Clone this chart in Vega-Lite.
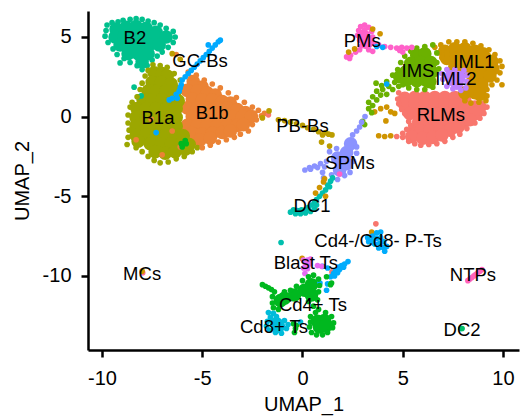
{"$schema":"https://vega.github.io/schema/vega-lite/v6.json","width":431,"height":339,"autosize":"none","padding":{"left":88,"top":11,"right":2,"bottom":66},"background":"white","config":{"view":{"stroke":null},"font":"Liberation Sans"},
"datasets":{
"core":[
{"x":-9.3,"y":5.5,"c":"B2"},{"x":-8.8,"y":5.6,"c":"B2"},{"x":-8.3,"y":5.65,"c":"B2"},{"x":-7.8,"y":5.55,"c":"B2"},{"x":-7.3,"y":5.3,"c":"B2"},
{"x":-9.35,"y":5.0,"c":"B2"},{"x":-8.9,"y":5.05,"c":"B2"},{"x":-8.4,"y":5.05,"c":"B2"},{"x":-7.9,"y":5.05,"c":"B2"},{"x":-7.4,"y":5.05,"c":"B2"},{"x":-6.8,"y":5.0,"c":"B2"},
{"x":-9.1,"y":4.5,"c":"B2"},{"x":-8.65,"y":4.5,"c":"B2"},{"x":-8.15,"y":4.5,"c":"B2"},{"x":-7.65,"y":4.5,"c":"B2"},{"x":-7.15,"y":4.5,"c":"B2"},
{"x":-8.7,"y":3.95,"c":"B2"},{"x":-8.2,"y":3.95,"c":"B2"},{"x":-7.7,"y":3.95,"c":"B2"},{"x":-8.0,"y":3.45,"c":"B2"},
{"x":-5.45,"y":2.2,"c":"B1b"},{"x":-5.0,"y":1.85,"c":"B1b"},{"x":-5.75,"y":1.65,"c":"B1b"},{"x":-5.25,"y":1.6,"c":"B1b"},{"x":-4.75,"y":1.5,"c":"B1b"},{"x":-4.35,"y":1.35,"c":"B1b"},
{"x":-5.5,"y":1.1,"c":"B1b"},{"x":-5.0,"y":1.05,"c":"B1b"},{"x":-4.5,"y":1.05,"c":"B1b"},{"x":-4.0,"y":0.95,"c":"B1b"},{"x":-3.6,"y":0.85,"c":"B1b"},
{"x":-5.75,"y":0.55,"c":"B1b"},{"x":-5.25,"y":0.55,"c":"B1b"},{"x":-4.75,"y":0.55,"c":"B1b"},{"x":-4.25,"y":0.55,"c":"B1b"},{"x":-3.75,"y":0.55,"c":"B1b"},{"x":-3.25,"y":0.45,"c":"B1b"},{"x":-2.85,"y":0.25,"c":"B1b"},
{"x":-5.5,"y":0.0,"c":"B1b"},{"x":-5.0,"y":0.0,"c":"B1b"},{"x":-4.5,"y":0.0,"c":"B1b"},{"x":-4.0,"y":0.0,"c":"B1b"},{"x":-3.5,"y":0.0,"c":"B1b"},{"x":-3.0,"y":0.0,"c":"B1b"},{"x":-2.55,"y":0.0,"c":"B1b"},
{"x":-5.75,"y":-0.55,"c":"B1b"},{"x":-5.25,"y":-0.55,"c":"B1b"},{"x":-4.75,"y":-0.55,"c":"B1b"},{"x":-4.25,"y":-0.55,"c":"B1b"},{"x":-3.75,"y":-0.55,"c":"B1b"},{"x":-3.25,"y":-0.55,"c":"B1b"},{"x":-2.95,"y":-0.5,"c":"B1b"},
{"x":-5.5,"y":-1.05,"c":"B1b"},{"x":-5.0,"y":-1.1,"c":"B1b"},{"x":-4.5,"y":-1.05,"c":"B1b"},{"x":-4.0,"y":-1.0,"c":"B1b"},{"x":-3.6,"y":-0.9,"c":"B1b"},{"x":-5.1,"y":-1.45,"c":"B1b"},{"x":-4.6,"y":-1.35,"c":"B1b"},
{"x":-7.4,"y":2.75,"c":"B1a"},{"x":-7.0,"y":2.7,"c":"B1a"},{"x":-6.75,"y":2.55,"c":"B1a"},
{"x":-7.5,"y":2.15,"c":"B1a"},{"x":-7.05,"y":2.15,"c":"B1a"},{"x":-6.55,"y":2.05,"c":"B1a"},
{"x":-7.7,"y":1.6,"c":"B1a"},{"x":-7.3,"y":1.6,"c":"B1a"},{"x":-6.8,"y":1.6,"c":"B1a"},{"x":-6.35,"y":1.6,"c":"B1a"},
{"x":-7.95,"y":1.05,"c":"B1a"},{"x":-7.5,"y":1.05,"c":"B1a"},{"x":-7.0,"y":1.05,"c":"B1a"},{"x":-6.5,"y":1.05,"c":"B1a"},{"x":-6.2,"y":1.0,"c":"B1a"},
{"x":-8.25,"y":0.5,"c":"B1a"},{"x":-7.8,"y":0.5,"c":"B1a"},{"x":-7.3,"y":0.5,"c":"B1a"},{"x":-6.8,"y":0.5,"c":"B1a"},{"x":-6.3,"y":0.5,"c":"B1a"},
{"x":-8.3,"y":-0.05,"c":"B1a"},{"x":-7.8,"y":-0.05,"c":"B1a"},{"x":-7.3,"y":-0.05,"c":"B1a"},{"x":-6.8,"y":-0.05,"c":"B1a"},{"x":-6.3,"y":-0.05,"c":"B1a"},
{"x":-8.3,"y":-0.6,"c":"B1a"},{"x":-7.8,"y":-0.6,"c":"B1a"},{"x":-7.3,"y":-0.6,"c":"B1a"},{"x":-6.8,"y":-0.6,"c":"B1a"},{"x":-6.3,"y":-0.6,"c":"B1a"},
{"x":-8.3,"y":-1.15,"c":"B1a"},{"x":-7.8,"y":-1.15,"c":"B1a"},{"x":-7.3,"y":-1.15,"c":"B1a"},{"x":-6.8,"y":-1.15,"c":"B1a"},{"x":-6.3,"y":-1.15,"c":"B1a"},{"x":-5.95,"y":-1.2,"c":"B1a"},
{"x":-8.2,"y":-1.55,"c":"B1a"},{"x":-7.6,"y":-1.7,"c":"B1a"},{"x":-7.05,"y":-1.7,"c":"B1a"},{"x":-6.55,"y":-1.7,"c":"B1a"},{"x":-6.05,"y":-1.7,"c":"B1a"},{"x":-5.65,"y":-1.75,"c":"B1a"},
{"x":-7.35,"y":-2.2,"c":"B1a"},{"x":-6.85,"y":-2.3,"c":"B1a"},{"x":-6.35,"y":-2.2,"c":"B1a"},{"x":-5.85,"y":-2.05,"c":"B1a"},
{"x":5.1,"y":1.15,"c":"RLMs"},{"x":5.6,"y":1.2,"c":"RLMs"},{"x":6.1,"y":1.2,"c":"RLMs"},{"x":6.6,"y":1.2,"c":"RLMs"},{"x":7.1,"y":1.2,"c":"RLMs"},{"x":7.6,"y":1.2,"c":"RLMs"},{"x":8.1,"y":1.0,"c":"RLMs"},
{"x":5.1,"y":0.75,"c":"RLMs"},{"x":5.6,"y":0.75,"c":"RLMs"},{"x":6.1,"y":0.75,"c":"RLMs"},{"x":6.6,"y":0.75,"c":"RLMs"},{"x":7.1,"y":0.75,"c":"RLMs"},{"x":7.6,"y":0.75,"c":"RLMs"},{"x":8.1,"y":0.6,"c":"RLMs"},{"x":8.6,"y":0.6,"c":"RLMs"},{"x":8.85,"y":0.6,"c":"RLMs"},
{"x":5.35,"y":0.2,"c":"RLMs"},{"x":5.85,"y":0.2,"c":"RLMs"},{"x":6.35,"y":0.2,"c":"RLMs"},{"x":6.85,"y":0.2,"c":"RLMs"},{"x":7.35,"y":0.2,"c":"RLMs"},{"x":7.85,"y":0.2,"c":"RLMs"},{"x":8.35,"y":0.15,"c":"RLMs"},{"x":8.65,"y":0.2,"c":"RLMs"},
{"x":5.8,"y":-0.35,"c":"RLMs"},{"x":6.1,"y":-0.35,"c":"RLMs"},{"x":6.6,"y":-0.35,"c":"RLMs"},{"x":7.1,"y":-0.35,"c":"RLMs"},{"x":7.6,"y":-0.35,"c":"RLMs"},{"x":8.05,"y":-0.3,"c":"RLMs"},{"x":8.35,"y":-0.2,"c":"RLMs"},
{"x":5.6,"y":-0.9,"c":"RLMs"},{"x":5.9,"y":-0.9,"c":"RLMs"},{"x":6.35,"y":-0.9,"c":"RLMs"},{"x":6.85,"y":-0.9,"c":"RLMs"},{"x":7.35,"y":-0.85,"c":"RLMs"},{"x":7.75,"y":-0.65,"c":"RLMs"},
{"x":5.45,"y":-1.25,"c":"RLMs"},{"x":6.0,"y":-1.35,"c":"RLMs"},{"x":6.5,"y":-1.3,"c":"RLMs"},{"x":6.95,"y":-1.15,"c":"RLMs"},
{"x":7.1,"y":4.1,"c":"IML1"},{"x":7.6,"y":4.25,"c":"IML1"},{"x":8.1,"y":4.25,"c":"IML1"},{"x":8.6,"y":4.1,"c":"IML1"},{"x":9.0,"y":3.95,"c":"IML1"},
{"x":7.2,"y":3.65,"c":"IML1"},{"x":7.65,"y":3.65,"c":"IML1"},{"x":8.15,"y":3.65,"c":"IML1"},{"x":8.65,"y":3.65,"c":"IML1"},{"x":9.15,"y":3.65,"c":"IML1"},{"x":9.45,"y":3.45,"c":"IML1"},
{"x":7.6,"y":3.1,"c":"IML1"},{"x":8.1,"y":3.1,"c":"IML1"},{"x":8.6,"y":3.1,"c":"IML1"},{"x":9.1,"y":3.1,"c":"IML1"},{"x":9.5,"y":3.0,"c":"IML1"},
{"x":8.5,"y":2.55,"c":"IML1"},{"x":9.0,"y":2.55,"c":"IML1"},{"x":9.35,"y":2.55,"c":"IML1"},{"x":8.5,"y":2.0,"c":"IML1"},{"x":8.95,"y":2.0,"c":"IML1"},{"x":8.1,"y":1.5,"c":"IML1"},{"x":8.6,"y":1.5,"c":"IML1"},{"x":8.85,"y":1.4,"c":"IML1"},
{"x":5.7,"y":3.85,"c":"IMS"},{"x":6.1,"y":3.95,"c":"IMS"},{"x":5.4,"y":3.35,"c":"IMS"},{"x":5.9,"y":3.4,"c":"IMS"},{"x":6.4,"y":3.4,"c":"IMS"},{"x":5.15,"y":2.8,"c":"IMS"},{"x":5.65,"y":2.85,"c":"IMS"},{"x":6.15,"y":2.85,"c":"IMS"},{"x":6.45,"y":2.8,"c":"IMS"},{"x":4.85,"y":2.5,"c":"IMS"},{"x":5.2,"y":2.3,"c":"IMS"},{"x":5.7,"y":2.25,"c":"IMS"},{"x":6.2,"y":2.25,"c":"IMS"},{"x":6.35,"y":2.2,"c":"IMS"},
{"x":7.4,"y":2.5,"c":"IML2"},{"x":7.8,"y":2.45,"c":"IML2"},{"x":7.7,"y":2.1,"c":"IML2"},
{"x":2.2,"y":-2.25,"c":"SPMs"},{"x":1.75,"y":-2.6,"c":"SPMs"},{"x":2.2,"y":-2.95,"c":"SPMs"},{"x":1.85,"y":-3.35,"c":"SPMs"},{"x":2.4,"y":-1.7,"c":"SPMs"},
{"x":3.05,"y":5.05,"c":"PMs"},{"x":3.2,"y":4.65,"c":"PMs"},
{"x":0.45,"y":-10.55,"c":"Cd4+ Ts"},{"x":0.1,"y":-10.9,"c":"Cd4+ Ts"},{"x":0.45,"y":-11.2,"c":"Cd4+ Ts"},{"x":-0.9,"y":-11.4,"c":"Cd4+ Ts"},{"x":-0.4,"y":-11.2,"c":"Cd4+ Ts"},{"x":-1.1,"y":-11.55,"c":"Cd4+ Ts"},{"x":0.75,"y":-12.85,"c":"Cd4+ Ts"},{"x":1.1,"y":-12.8,"c":"Cd4+ Ts"},{"x":0.85,"y":-13.2,"c":"Cd4+ Ts"},{"x":1.15,"y":-13.15,"c":"Cd4+ Ts"},
{"x":-1.3,"y":-13.0,"c":"Cd8+ Ts"},{"x":-1.2,"y":-13.15,"c":"Cd8+ Ts"}
],
"fine":[
{"x":-9.75,"y":5.75,"c":"B2"},{"x":-9.5,"y":5.9,"c":"B2"},{"x":-9.2,"y":5.95,"c":"B2"},{"x":-8.95,"y":6.05,"c":"B2"},{"x":-8.6,"y":6.1,"c":"B2"},{"x":-8.3,"y":6.15,"c":"B2"},{"x":-8.0,"y":6.1,"c":"B2"},{"x":-7.7,"y":6.0,"c":"B2"},{"x":-7.4,"y":5.9,"c":"B2"},{"x":-7.1,"y":5.75,"c":"B2"},{"x":-6.8,"y":5.55,"c":"B2"},{"x":-6.45,"y":5.35,"c":"B2"},{"x":-6.35,"y":5.0,"c":"B2"},{"x":-6.45,"y":4.65,"c":"B2"},{"x":-6.7,"y":4.35,"c":"B2"},{"x":-7.0,"y":4.05,"c":"B2"},{"x":-7.25,"y":3.8,"c":"B2"},{"x":-7.5,"y":3.55,"c":"B2"},{"x":-7.75,"y":3.2,"c":"B2"},{"x":-8.0,"y":2.95,"c":"B2"},{"x":-8.25,"y":3.2,"c":"B2"},{"x":-8.6,"y":3.4,"c":"B2"},{"x":-8.9,"y":3.65,"c":"B2"},{"x":-9.25,"y":3.9,"c":"B2"},{"x":-9.45,"y":4.25,"c":"B2"},{"x":-9.7,"y":4.65,"c":"B2"},{"x":-9.85,"y":5.05,"c":"B2"},{"x":-9.8,"y":5.4,"c":"B2"},{"x":-9.1,"y":3.37,"c":"B2"},{"x":-8.4,"y":1.85,"c":"B2"},{"x":-8.05,"y":1.3,"c":"B2"},{"x":-8.2,"y":1.25,"c":"B2"},
{"x":-7.7,"y":2.9,"c":"B1a"},{"x":-7.46,"y":3.25,"c":"B1a"},{"x":-7.1,"y":3.2,"c":"B1a"},{"x":-6.75,"y":3.1,"c":"B1a"},{"x":-6.4,"y":2.7,"c":"B1a"},{"x":-6.1,"y":2.3,"c":"B1a"},{"x":-8.0,"y":2.1,"c":"B1a"},{"x":-7.85,"y":2.55,"c":"B1a"},{"x":-8.1,"y":1.7,"c":"B1a"},{"x":-8.25,"y":1.25,"c":"B1a"},{"x":-8.5,"y":0.9,"c":"B1a"},{"x":-8.6,"y":0.6,"c":"B1a"},{"x":-8.7,"y":0.1,"c":"B1a"},{"x":-8.7,"y":-0.4,"c":"B1a"},{"x":-8.65,"y":-0.85,"c":"B1a"},{"x":-8.7,"y":-1.3,"c":"B1a"},{"x":-8.75,"y":-1.75,"c":"B1a"},{"x":-8.3,"y":-1.95,"c":"B1a"},{"x":-8.0,"y":-2.2,"c":"B1a"},{"x":-7.7,"y":-2.5,"c":"B1a"},{"x":-7.4,"y":-2.75,"c":"B1a"},{"x":-7.1,"y":-2.9,"c":"B1a"},{"x":-6.7,"y":-2.85,"c":"B1a"},{"x":-6.3,"y":-2.65,"c":"B1a"},{"x":-5.9,"y":-2.5,"c":"B1a"},{"x":-5.5,"y":-2.2,"c":"B1a"},{"x":-5.25,"y":-1.95,"c":"B1a"},
{"x":-5.7,"y":2.8,"c":"B1b"},{"x":-5.3,"y":2.6,"c":"B1b"},{"x":-4.9,"y":2.3,"c":"B1b"},{"x":-4.5,"y":2.05,"c":"B1b"},{"x":-4.1,"y":1.8,"c":"B1b"},{"x":-3.7,"y":1.5,"c":"B1b"},{"x":-3.3,"y":1.2,"c":"B1b"},{"x":-2.9,"y":0.9,"c":"B1b"},{"x":-2.5,"y":0.6,"c":"B1b"},{"x":-2.2,"y":0.4,"c":"B1b"},{"x":-1.9,"y":0.2,"c":"B1b"},{"x":-2.05,"y":0.05,"c":"B1b"},{"x":-2.4,"y":0.2,"c":"B1b"},{"x":-2.3,"y":-0.2,"c":"B1b"},{"x":-2.5,"y":-0.5,"c":"B1b"},{"x":-2.7,"y":-0.9,"c":"B1b"},{"x":-3.1,"y":-1.1,"c":"B1b"},{"x":-3.4,"y":-1.3,"c":"B1b"},{"x":-3.8,"y":-1.45,"c":"B1b"},{"x":-4.2,"y":-1.6,"c":"B1b"},{"x":-4.6,"y":-1.8,"c":"B1b"},{"x":-5.0,"y":-1.95,"c":"B1b"},{"x":-5.55,"y":2.45,"c":"B1b"},{"x":-6.3,"y":3.9,"c":"B1b"},{"x":-7.55,"y":-0.15,"c":"B1b"},{"x":-8.3,"y":-1.45,"c":"B1b"},{"x":-7.0,"y":-2.4,"c":"B1b"},{"x":-6.1,"y":-1.9,"c":"B1b"},{"x":-6.5,"y":-0.9,"c":"B1b"},
{"x":-1.7,"y":0.11,"c":"RLMs"},{"x":-1.67,"y":0.36,"c":"PB-Bs"},{"x":-2.0,"y":-0.08,"c":"PB-Bs"},{"x":-6.5,"y":3.95,"c":"PB-Bs"},{"x":-6.1,"y":3.6,"c":"PB-Bs"},
{"x":4.8,"y":1.5,"c":"RLMs"},{"x":4.75,"y":1.1,"c":"RLMs"},{"x":4.8,"y":0.8,"c":"RLMs"},{"x":4.95,"y":0.45,"c":"RLMs"},{"x":5.1,"y":0.2,"c":"RLMs"},{"x":5.3,"y":-0.3,"c":"RLMs"},{"x":5.4,"y":-0.55,"c":"RLMs"},{"x":5.2,"y":-0.8,"c":"RLMs"},{"x":5.0,"y":-1.05,"c":"RLMs"},{"x":5.0,"y":-1.3,"c":"RLMs"},{"x":5.3,"y":-1.55,"c":"RLMs"},{"x":5.6,"y":-1.7,"c":"RLMs"},{"x":5.9,"y":-1.8,"c":"RLMs"},{"x":6.3,"y":-1.75,"c":"RLMs"},{"x":6.7,"y":-1.7,"c":"RLMs"},{"x":7.1,"y":-1.55,"c":"RLMs"},{"x":7.5,"y":-1.3,"c":"RLMs"},{"x":7.85,"y":-1.1,"c":"RLMs"},{"x":8.2,"y":-0.75,"c":"RLMs"},{"x":8.6,"y":-0.4,"c":"RLMs"},{"x":8.85,"y":-0.1,"c":"RLMs"},{"x":9.05,"y":0.2,"c":"RLMs"},{"x":9.2,"y":0.6,"c":"RLMs"},{"x":4.7,"y":-1.25,"c":"RLMs"},
{"x":4.1,"y":-1.25,"c":"IML1"},{"x":3.8,"y":-1.2,"c":"IML1"},{"x":4.4,"y":-1.2,"c":"IML1"},{"x":3.9,"y":0.5,"c":"IML1"},{"x":4.2,"y":0.6,"c":"IML1"},{"x":4.4,"y":0.3,"c":"IML1"},{"x":4.6,"y":0.2,"c":"IML1"},{"x":3.6,"y":0.3,"c":"IML1"},{"x":4.16,"y":-0.27,"c":"IML1"},
{"x":6.6,"y":4.35,"c":"IML1"},{"x":6.9,"y":4.5,"c":"IML1"},{"x":7.3,"y":4.7,"c":"IML1"},{"x":7.7,"y":4.7,"c":"IML1"},{"x":8.1,"y":4.7,"c":"IML1"},{"x":8.5,"y":4.6,"c":"IML1"},{"x":8.9,"y":4.45,"c":"IML1"},{"x":9.3,"y":4.2,"c":"IML1"},{"x":9.6,"y":3.9,"c":"IML1"},{"x":9.85,"y":3.5,"c":"IML1"},{"x":9.95,"y":3.15,"c":"IML1"},{"x":9.85,"y":2.75,"c":"IML1"},{"x":9.7,"y":2.3,"c":"IML1"},{"x":9.45,"y":2.0,"c":"IML1"},{"x":9.2,"y":1.7,"c":"IML1"},{"x":9.2,"y":1.3,"c":"IML1"},{"x":9.15,"y":1.0,"c":"IML1"},{"x":8.8,"y":0.9,"c":"IML1"},{"x":8.4,"y":0.85,"c":"IML1"},{"x":8.1,"y":1.0,"c":"IML1"},{"x":6.8,"y":4.0,"c":"IML1"},{"x":9.95,"y":2.0,"c":"IML1"},{"x":7.2,"y":4.0,"c":"IML1"},{"x":6.95,"y":3.7,"c":"IML1"},
{"x":5.7,"y":4.3,"c":"IMS"},{"x":6.1,"y":4.4,"c":"IMS"},{"x":6.5,"y":4.5,"c":"IMS"},{"x":5.4,"y":4.1,"c":"IMS"},{"x":5.1,"y":3.8,"c":"IMS"},{"x":4.9,"y":3.4,"c":"IMS"},{"x":4.75,"y":2.95,"c":"IMS"},{"x":4.5,"y":2.6,"c":"IMS"},{"x":4.2,"y":2.2,"c":"IMS"},{"x":3.95,"y":1.95,"c":"IMS"},{"x":3.7,"y":1.6,"c":"IMS"},{"x":3.5,"y":1.25,"c":"IMS"},{"x":3.3,"y":0.9,"c":"IMS"},{"x":3.3,"y":0.5,"c":"IMS"},{"x":3.5,"y":0.7,"c":"IMS"},{"x":3.7,"y":1.05,"c":"IMS"},{"x":3.9,"y":1.35,"c":"IMS"},{"x":4.2,"y":1.4,"c":"IMS"},{"x":4.5,"y":1.7,"c":"IMS"},{"x":4.8,"y":1.9,"c":"IMS"},{"x":5.0,"y":2.0,"c":"IMS"},{"x":5.3,"y":1.8,"c":"IMS"},{"x":5.7,"y":1.7,"c":"IMS"},{"x":6.1,"y":1.7,"c":"IMS"},{"x":6.5,"y":1.85,"c":"IMS"},{"x":3.67,"y":2.1,"c":"IMS"},{"x":4.0,"y":1.7,"c":"IMS"},{"x":4.3,"y":1.9,"c":"IMS"},{"x":4.6,"y":2.15,"c":"IMS"},{"x":3.0,"y":-0.3,"c":"IMS"},{"x":3.1,"y":-0.5,"c":"IMS"},{"x":3.45,"y":0.25,"c":"IMS"},{"x":6.7,"y":4.0,"c":"IMS"},{"x":6.7,"y":3.4,"c":"IMS"},{"x":6.8,"y":3.0,"c":"IMS"},
{"x":6.95,"y":2.7,"c":"IML2"},{"x":7.0,"y":2.35,"c":"IML2"},{"x":7.2,"y":2.95,"c":"IML2"},{"x":7.6,"y":2.95,"c":"IML2"},{"x":8.05,"y":2.9,"c":"IML2"},{"x":8.2,"y":2.6,"c":"IML2"},{"x":8.2,"y":2.2,"c":"IML2"},{"x":8.15,"y":1.8,"c":"IML2"},{"x":7.9,"y":1.65,"c":"IML2"},{"x":7.5,"y":1.75,"c":"IML2"},{"x":7.3,"y":2.1,"c":"IML2"},{"x":7.2,"y":1.9,"c":"IML2"},
{"x":-4.1,"y":4.8,"c":"GC-Bs"},{"x":-4.2,"y":4.7,"c":"GC-Bs"},{"x":-4.35,"y":4.5,"c":"GC-Bs"},{"x":-4.5,"y":4.3,"c":"GC-Bs"},{"x":-4.65,"y":4.1,"c":"GC-Bs"},{"x":-4.8,"y":3.9,"c":"GC-Bs"},{"x":-4.95,"y":3.7,"c":"GC-Bs"},{"x":-5.1,"y":3.5,"c":"GC-Bs"},{"x":-5.25,"y":3.3,"c":"GC-Bs"},{"x":-5.4,"y":3.1,"c":"GC-Bs"},{"x":-5.55,"y":2.9,"c":"GC-Bs"},{"x":-5.7,"y":2.7,"c":"GC-Bs"},{"x":-5.85,"y":2.5,"c":"GC-Bs"},{"x":-6.0,"y":2.3,"c":"GC-Bs"},{"x":-6.05,"y":2.0,"c":"GC-Bs"},{"x":-6.1,"y":1.8,"c":"GC-Bs"},{"x":-6.15,"y":1.6,"c":"GC-Bs"},{"x":-6.3,"y":1.4,"c":"GC-Bs"},{"x":-6.5,"y":1.15,"c":"GC-Bs"},{"x":-6.65,"y":1.05,"c":"GC-Bs"},{"x":-6.25,"y":1.15,"c":"GC-Bs"},{"x":-4.7,"y":4.5,"c":"GC-Bs"},{"x":-7.3,"y":-1.0,"c":"GC-Bs"},
{"x":3.1,"y":5.75,"c":"PMs"},{"x":2.9,"y":5.65,"c":"PMs"},{"x":3.3,"y":5.6,"c":"PMs"},{"x":2.8,"y":5.4,"c":"PMs"},{"x":3.1,"y":5.45,"c":"PMs"},{"x":3.45,"y":5.35,"c":"PMs"},{"x":2.75,"y":5.1,"c":"PMs"},{"x":3.5,"y":5.0,"c":"PMs"},{"x":2.85,"y":4.8,"c":"PMs"},{"x":3.55,"y":4.6,"c":"PMs"},{"x":2.95,"y":4.45,"c":"PMs"},{"x":3.3,"y":4.2,"c":"PMs"},{"x":3.5,"y":4.1,"c":"PMs"},{"x":3.8,"y":4.5,"c":"PMs"},{"x":4.1,"y":4.4,"c":"PMs"},{"x":4.4,"y":4.35,"c":"PMs"},{"x":4.7,"y":4.3,"c":"PMs"},{"x":4.95,"y":4.35,"c":"PMs"},{"x":5.2,"y":4.3,"c":"PMs"},{"x":5.45,"y":4.35,"c":"PMs"},{"x":5.0,"y":4.05,"c":"PMs"},{"x":4.85,"y":4.15,"c":"PMs"},{"x":2.2,"y":3.75,"c":"PMs"},{"x":2.4,"y":3.85,"c":"PMs"},{"x":2.65,"y":4.05,"c":"PMs"},{"x":2.35,"y":3.65,"c":"PMs"},{"x":2.85,"y":4.2,"c":"PMs"},
{"x":3.87,"y":5.2,"c":"IML1"},{"x":3.5,"y":5.5,"c":"IML1"},{"x":2.6,"y":4.25,"c":"IML1"},{"x":2.3,"y":4.05,"c":"IML1"},{"x":4.0,"y":4.35,"c":"GC-Bs"},{"x":3.7,"y":4.4,"c":"GC-Bs"},{"x":4.2,"y":2.05,"c":"GC-Bs"},
{"x":3.12,"y":0.0,"c":"SPMs"},{"x":2.95,"y":-0.35,"c":"SPMs"},{"x":2.85,"y":-0.65,"c":"SPMs"},{"x":2.7,"y":-0.9,"c":"SPMs"},{"x":2.5,"y":-1.15,"c":"SPMs"},{"x":1.7,"y":-2.0,"c":"SPMs"},{"x":1.35,"y":-2.2,"c":"SPMs"},{"x":2.7,"y":-2.3,"c":"SPMs"},{"x":2.7,"y":-1.9,"c":"SPMs"},{"x":1.2,"y":-2.8,"c":"SPMs"},{"x":0.9,"y":-2.95,"c":"SPMs"},{"x":0.6,"y":-3.1,"c":"SPMs"},{"x":0.35,"y":-3.2,"c":"SPMs"},{"x":0.12,"y":-3.35,"c":"SPMs"},{"x":0.4,"y":-3.3,"c":"SPMs"},{"x":0.75,"y":-3.2,"c":"SPMs"},{"x":1.1,"y":-3.15,"c":"SPMs"},{"x":2.55,"y":-2.8,"c":"SPMs"},{"x":2.37,"y":-3.5,"c":"SPMs"},{"x":2.1,"y":-3.7,"c":"SPMs"},{"x":1.75,"y":-3.95,"c":"SPMs"},{"x":1.45,"y":-3.65,"c":"SPMs"},{"x":1.0,"y":-3.5,"c":"SPMs"},{"x":1.05,"y":-3.85,"c":"SPMs"},
{"x":1.0,"y":-1.15,"c":"PB-Bs"},{"x":1.47,"y":-1.15,"c":"PB-Bs"},{"x":1.3,"y":-1.1,"c":"PB-Bs"},{"x":1.15,"y":-1.0,"c":"PB-Bs"},{"x":0.8,"y":-0.95,"c":"PB-Bs"},{"x":0.55,"y":-0.8,"c":"PB-Bs"},{"x":0.25,"y":-0.7,"c":"PB-Bs"},{"x":0.0,"y":-0.55,"c":"PB-Bs"},{"x":-0.3,"y":-0.45,"c":"PB-Bs"},{"x":-0.6,"y":-0.35,"c":"PB-Bs"},{"x":-0.9,"y":-0.25,"c":"PB-Bs"},{"x":-1.2,"y":-0.2,"c":"PB-Bs"},{"x":0.95,"y":-1.6,"c":"PB-Bs"},{"x":1.35,"y":-1.85,"c":"PB-Bs"},
{"x":1.5,"y":-3.85,"c":"DC1"},{"x":1.4,"y":-4.05,"c":"DC1"},{"x":1.25,"y":-4.3,"c":"DC1"},{"x":1.35,"y":-4.4,"c":"DC1"},{"x":1.15,"y":-4.6,"c":"DC1"},{"x":1.0,"y":-4.8,"c":"DC1"},{"x":0.85,"y":-5.0,"c":"DC1"},{"x":0.7,"y":-5.2,"c":"DC1"},{"x":0.6,"y":-5.4,"c":"DC1"},{"x":0.45,"y":-5.55,"c":"DC1"},{"x":0.3,"y":-5.7,"c":"DC1"},{"x":0.15,"y":-5.85,"c":"DC1"},{"x":-0.05,"y":-5.85,"c":"DC1"},{"x":-0.25,"y":-5.9,"c":"DC1"},{"x":-0.45,"y":-5.85,"c":"DC1"},{"x":-0.6,"y":-6.0,"c":"DC1"},{"x":-0.35,"y":-6.1,"c":"DC1"},{"x":-0.1,"y":-6.1,"c":"DC1"},{"x":0.15,"y":-6.05,"c":"DC1"},{"x":0.4,"y":-5.95,"c":"DC1"},{"x":0.6,"y":-5.8,"c":"DC1"},{"x":0.7,"y":-5.55,"c":"DC1"},
{"x":1.05,"y":-4.1,"c":"IML1"},{"x":0.85,"y":-4.45,"c":"IML1"},{"x":0.65,"y":-4.8,"c":"IML1"},{"x":1.15,"y":-5.0,"c":"IML1"},{"x":1.1,"y":-3.9,"c":"IML1"},{"x":1.85,"y":-3.6,"c":"PMs"},
{"x":-1.07,"y":-7.9,"c":"DC1"},{"x":-0.02,"y":-8.9,"c":"IML1"},{"x":3.66,"y":-6.73,"c":"RLMs"},{"x":3.45,"y":-7.25,"c":"IML1"},{"x":1.47,"y":-9.75,"c":"RLMs"},
{"x":3.25,"y":-7.6,"c":"CdP"},{"x":3.5,"y":-7.5,"c":"CdP"},{"x":3.7,"y":-7.3,"c":"CdP"},{"x":3.45,"y":-7.8,"c":"CdP"},{"x":3.7,"y":-7.65,"c":"CdP"},{"x":3.9,"y":-7.6,"c":"CdP"},{"x":3.6,"y":-8.0,"c":"CdP"},{"x":3.85,"y":-7.95,"c":"CdP"},{"x":4.05,"y":-7.85,"c":"CdP"},{"x":3.8,"y":-8.25,"c":"CdP"},{"x":4.0,"y":-8.2,"c":"CdP"},{"x":4.2,"y":-8.15,"c":"CdP"},{"x":4.1,"y":-8.45,"c":"CdP"},{"x":3.3,"y":-7.85,"c":"CdP"},{"x":3.9,"y":-7.25,"c":"CdP"},
{"x":2.27,"y":-9.1,"c":"CdP"},{"x":2.1,"y":-9.25,"c":"CdP"},{"x":1.95,"y":-9.35,"c":"CdP"},{"x":2.05,"y":-9.45,"c":"CdP"},{"x":1.8,"y":-9.45,"c":"CdP"},{"x":1.85,"y":-9.6,"c":"CdP"},{"x":1.65,"y":-9.65,"c":"CdP"},{"x":1.75,"y":-9.8,"c":"CdP"},{"x":1.55,"y":-9.85,"c":"CdP"},{"x":1.6,"y":-10.0,"c":"CdP"},{"x":1.4,"y":-10.05,"c":"CdP"},{"x":1.25,"y":-9.5,"c":"CdP"},{"x":1.0,"y":-9.4,"c":"CdP"},{"x":1.2,"y":-10.9,"c":"CdP"},{"x":0.87,"y":-10.45,"c":"CdP"},{"x":1.25,"y":-10.5,"c":"CdP"},
{"x":0.05,"y":-9.0,"c":"Blast Ts"},{"x":0.25,"y":-9.0,"c":"Blast Ts"},{"x":0.4,"y":-8.95,"c":"Blast Ts"},{"x":0.15,"y":-9.25,"c":"Blast Ts"},{"x":0.35,"y":-9.25,"c":"Blast Ts"},{"x":0.05,"y":-9.5,"c":"Blast Ts"},{"x":0.25,"y":-9.55,"c":"Blast Ts"},{"x":0.12,"y":-9.85,"c":"Blast Ts"},{"x":0.75,"y":-9.35,"c":"Blast Ts"},{"x":0.95,"y":-9.4,"c":"Blast Ts"},
{"x":-2.0,"y":-10.55,"c":"Cd4+ Ts"},{"x":-1.85,"y":-10.65,"c":"Cd4+ Ts"},{"x":-1.7,"y":-10.75,"c":"Cd4+ Ts"},{"x":-1.55,"y":-10.85,"c":"Cd4+ Ts"},{"x":-1.4,"y":-11.0,"c":"Cd4+ Ts"},{"x":-1.5,"y":-11.3,"c":"Cd4+ Ts"},{"x":-1.5,"y":-11.7,"c":"Cd4+ Ts"},{"x":-1.45,"y":-12.0,"c":"Cd4+ Ts"},{"x":-1.2,"y":-12.1,"c":"Cd4+ Ts"},{"x":-0.9,"y":-11.0,"c":"Cd4+ Ts"},{"x":-0.6,"y":-10.9,"c":"Cd4+ Ts"},{"x":-0.3,"y":-10.65,"c":"Cd4+ Ts"},{"x":0.0,"y":-10.3,"c":"Cd4+ Ts"},{"x":0.3,"y":-10.05,"c":"Cd4+ Ts"},{"x":0.55,"y":-9.95,"c":"Cd4+ Ts"},{"x":0.8,"y":-10.2,"c":"Cd4+ Ts"},{"x":0.85,"y":-10.6,"c":"Cd4+ Ts"},{"x":0.8,"y":-11.0,"c":"Cd4+ Ts"},{"x":0.75,"y":-11.5,"c":"Cd4+ Ts"},{"x":0.55,"y":-11.9,"c":"Cd4+ Ts"},{"x":0.3,"y":-11.6,"c":"Cd4+ Ts"},{"x":0.8,"y":-12.1,"c":"Cd4+ Ts"},{"x":0.65,"y":-12.3,"c":"Cd4+ Ts"},{"x":1.15,"y":-12.3,"c":"Cd4+ Ts"},{"x":1.45,"y":-12.55,"c":"Cd4+ Ts"},{"x":1.55,"y":-12.95,"c":"Cd4+ Ts"},{"x":1.5,"y":-13.25,"c":"Cd4+ Ts"},{"x":1.25,"y":-13.55,"c":"Cd4+ Ts"},{"x":1.0,"y":-13.7,"c":"Cd4+ Ts"},{"x":0.7,"y":-13.7,"c":"Cd4+ Ts"},{"x":0.45,"y":-13.55,"c":"Cd4+ Ts"},{"x":0.35,"y":-13.2,"c":"Cd4+ Ts"},{"x":0.4,"y":-12.9,"c":"Cd4+ Ts"},{"x":0.4,"y":-12.55,"c":"Cd4+ Ts"},{"x":-0.45,"y":-13.0,"c":"Cd4+ Ts"},{"x":-0.35,"y":-13.3,"c":"Cd4+ Ts"},{"x":-0.4,"y":-13.55,"c":"Cd4+ Ts"},{"x":-0.3,"y":-13.1,"c":"Cd4+ Ts"},{"x":1.4,"y":-10.55,"c":"Cd4+ Ts"},{"x":1.45,"y":-10.45,"c":"Cd4+ Ts"},{"x":1.2,"y":-10.05,"c":"Cd4+ Ts"},{"x":-5.8,"y":-1.7,"c":"Cd4+ Ts"},{"x":-6.0,"y":-1.9,"c":"Cd4+ Ts"},{"x":-6.05,"y":-1.7,"c":"Cd4+ Ts"},{"x":-5.85,"y":-1.5,"c":"Cd4+ Ts"},
{"x":-1.7,"y":-12.3,"c":"Cd8+ Ts"},{"x":-1.45,"y":-12.35,"c":"Cd8+ Ts"},{"x":-1.3,"y":-12.55,"c":"Cd8+ Ts"},{"x":-1.6,"y":-12.6,"c":"Cd8+ Ts"},{"x":-1.75,"y":-12.85,"c":"Cd8+ Ts"},{"x":-1.8,"y":-13.15,"c":"Cd8+ Ts"},{"x":-1.65,"y":-13.4,"c":"Cd8+ Ts"},{"x":-1.35,"y":-13.55,"c":"Cd8+ Ts"},{"x":-1.05,"y":-13.6,"c":"Cd8+ Ts"},{"x":-0.8,"y":-13.3,"c":"Cd8+ Ts"},{"x":-0.72,"y":-13.05,"c":"Cd8+ Ts"},{"x":-0.9,"y":-12.8,"c":"Cd8+ Ts"},{"x":-0.1,"y":-12.9,"c":"Cd8+ Ts"},
{"x":-7.97,"y":-9.8,"c":"MCs"},{"x":-8.0,"y":-9.7,"c":"IML1"},
{"x":8.25,"y":-10.3,"c":"NTPs"},{"x":8.35,"y":-10.2,"c":"NTPs"},{"x":8.45,"y":-10.1,"c":"NTPs"},{"x":8.55,"y":-10.0,"c":"NTPs"},{"x":8.65,"y":-9.9,"c":"NTPs"},{"x":8.75,"y":-9.8,"c":"NTPs"},{"x":8.85,"y":-9.7,"c":"NTPs"},{"x":8.95,"y":-9.6,"c":"NTPs"},{"x":7.96,"y":-13.3,"c":"DC2"},{"x":7.9,"y":-13.3,"c":"DC2"}
],
"labels":[
{"x":-8.36,"y":4.94,"t":"B2"},{"x":-5.11,"y":3.5,"t":"GC-Bs"},{"x":-7.21,"y":-0.08,"t":"B1a"},{"x":-4.51,"y":0.23,"t":"B1b"},{"x":0.0,"y":-0.58,"t":"PB-Bs"},{"x":2.98,"y":4.75,"t":"PMs"},{"x":8.55,"y":3.43,"t":"IML1"},{"x":5.76,"y":2.87,"t":"IMS"},{"x":7.65,"y":2.37,"t":"IML2"},{"x":6.9,"y":0.1,"t":"RLMs"},{"x":2.37,"y":-2.9,"t":"SPMs"},{"x":0.47,"y":-5.6,"t":"DC1"},{"x":3.77,"y":-7.8,"t":"Cd4-/Cd8- P-Ts"},{"x":0.17,"y":-9.18,"t":"Blast Ts"},{"x":0.52,"y":-11.82,"t":"Cd4+ Ts"},{"x":-1.42,"y":-13.2,"t":"Cd8+ Ts"},{"x":-8.0,"y":-9.87,"t":"MCs"},{"x":8.5,"y":-9.93,"t":"NTPs"},{"x":7.96,"y":-13.4,"t":"DC2"}
]},
"encoding":{
"x":{"field":"x","type":"quantitative","scale":{"domain":[-10.7,10.8],"nice":false,"zero":false},"axis":{"values":[-10,-5,0,5,10],"labelExpr":"datum.value + ''","title":"UMAP_1","grid":false,"domainColor":"black","domainWidth":2.5,"tickColor":"black","tickWidth":2.5,"tickSize":7,"labelColor":"black","labelFontSize":20,"labelFont":"Liberation Sans","labelPadding":11,"titleFont":"Liberation Sans","titleFontSize":20,"titleFontWeight":"normal","titleColor":"black","titlePadding":6}},
"y":{"field":"y","type":"quantitative","scale":{"domain":[-14.65,6.63],"nice":false,"zero":false},"axis":{"values":[-10,-5,0,5],"labelExpr":"datum.value + ''","title":"UMAP_2","grid":false,"domainColor":"black","domainWidth":2.5,"tickColor":"black","tickWidth":2.5,"tickSize":7,"labelColor":"black","labelFontSize":20,"labelFont":"Liberation Sans","labelPadding":10,"titleFont":"Liberation Sans","titleFontSize":20,"titleFontWeight":"normal","titleColor":"black","titlePadding":10}}
},
"layer":[
{"data":{"name":"core"},"mark":{"type":"circle","size":185,"opacity":1},"encoding":{"color":{"field":"c","type":"nominal","legend":null,"scale":{"domain":["B2","B1a","B1b","RLMs","IML1","IMS","IML2","PMs","SPMs","DC1","Cd4+ Ts","Cd8+ Ts","GC-Bs","CdP","Blast Ts","PB-Bs","NTPs","DC2","MCs"],"range":["#00C08D","#9CA700","#EB8335","#F8766D","#CF9400","#6BB100","#BE80FF","#FF61C9","#8B93FF","#00BFAE","#00B81F","#00BBDA","#00A9FF","#00ACFC","#E76BF3","#BB9D00","#FF62BC","#00BE67","#FF6A98"]}}}},
{"data":{"name":"fine"},"mark":{"type":"circle","size":32,"opacity":1},"encoding":{"color":{"field":"c","type":"nominal","legend":null}}},
{"data":{"name":"labels"},"mark":{"type":"text","font":"Liberation Sans","fontSize":18.5,"color":"black"},"encoding":{"text":{"field":"t","type":"nominal"}}}
]}
